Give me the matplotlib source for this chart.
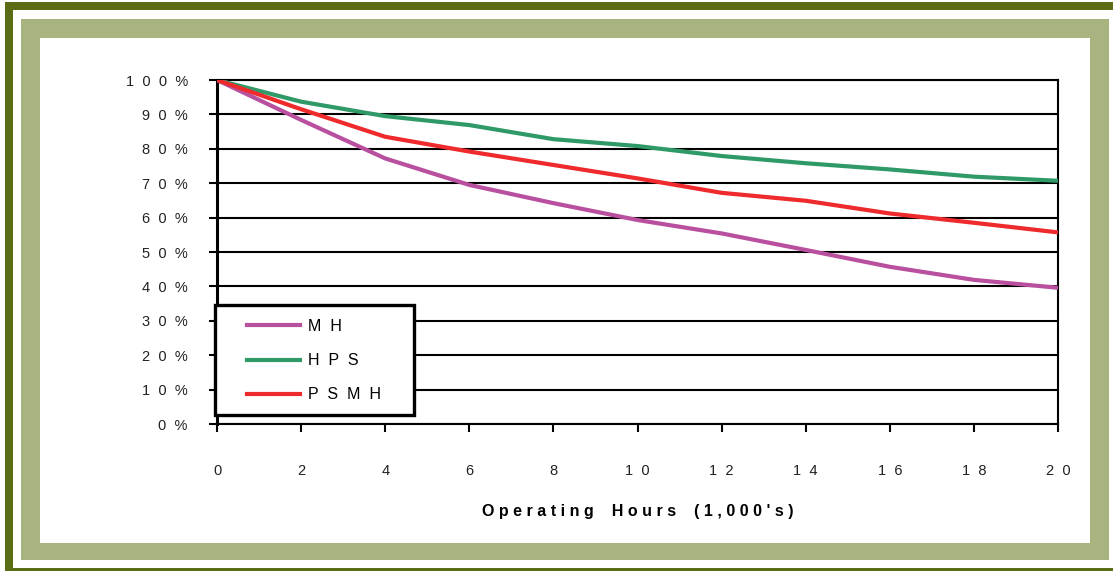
import matplotlib
matplotlib.use("Agg")
import matplotlib.pyplot as plt
from matplotlib.patches import Rectangle
from matplotlib.lines import Line2D

# ---- data ----
hours = [0, 2, 4, 6, 8, 10, 12, 14, 16, 18, 20]
mh = [100, 88.4, 77.2, 69.5, 64.2, 59.3, 55.4, 50.6, 45.7, 41.9, 39.6]
hps = [100, 93.7, 89.5, 86.9, 82.8, 80.8, 77.9, 75.8, 74.0, 71.9, 70.7]
psmh = [100, 91.5, 83.5, 79.2, 75.3, 71.4, 67.2, 64.9, 61.2, 58.5, 55.7]
series_names = ["M  H", "H  P  S", "P  S  M  H"]
series_colors = ["#B9509F", "#2F9A68", "#EE2A2C"]
y_ticks = [0, 10, 20, 30, 40, 50, 60, 70, 80, 90, 100]
y_labels = ["0  %", "1  0  %", "2  0  %", "3  0  %", "4  0  %", "5  0  %",
            "6  0  %", "7  0  %", "8  0  %", "9  0  %", "1  0  0  %"]
x_ticks = hours
x_labels = ["0", "2", "4", "6", "8", "1  0", "1  2", "1  4", "1  6", "1  8", "2  0"]
x_title = "O p e r a t i n g    H o u r s    ( 1 , 0 0 0 ' s )"

W, H = 1113, 571
plt.rcParams['font.family'] = ['Liberation Sans', 'DejaVu Sans']
fig = plt.figure(figsize=(W / 100, H / 100), dpi=100)
fig.patch.set_facecolor("white")


def rect_px(x0, y0, x1, y1, color, z):
    r = Rectangle((x0 / W, 1 - y1 / H), (x1 - x0) / W, (y1 - y0) / H,
                  transform=fig.transFigure, facecolor=color, edgecolor="none",
                  zorder=z)
    fig.add_artist(r)
    return r


# frame
rect_px(5, 2, 1125, 590, "#5B6D14", -10)
rect_px(13, 10, 1117, 568, "white", -9)
rect_px(21, 19, 1109, 560, "#A8B47F", -8)
rect_px(40, 38, 1090, 543, "white", -7)

ax = fig.add_axes([217 / W, 1 - 424 / H, (1058 - 217) / W, (424 - 80) / H])
ax.set_facecolor("none")
ax.set_xlim(0, 20)
ax.set_ylim(0, 100)

for v in y_ticks:
    ax.axhline(v, color="black", lw=1.5, zorder=1)

for y, c in zip([mh, hps, psmh], series_colors):
    ax.plot(hours, y, color=c, lw=3.0, solid_capstyle="butt", zorder=3)

ax.spines["left"].set_linewidth(2.2)
ax.spines["right"].set_linewidth(1.5)
ax.spines["top"].set_linewidth(1.5)
ax.spines["bottom"].set_linewidth(1.5)

ax.set_yticks(y_ticks)
ax.set_yticklabels(y_labels, fontsize=10.5, color="#222222")
ax.set_xticks(x_ticks)
ax.set_xticklabels(x_labels, fontsize=10.5, color="#222222")
ax.tick_params(axis="y", direction="out", length=6, width=1.5, pad=15)
ax.tick_params(axis="x", direction="out", length=6, width=1.5, pad=22.5)
ax.set_xlabel(x_title, fontsize=11.5, fontweight="bold", labelpad=19)

# legend
rect = Rectangle((215 / W, 1 - 415 / H), (414 - 215) / W, (415 - 305) / H,
                 transform=fig.transFigure, facecolor="white", edgecolor="black",
                 lw=2.4, zorder=5)
fig.add_artist(rect)
handles = [Line2D([], [], color=c, lw=3.0) for c in series_colors]
leg = fig.legend(handles, series_names, loc="upper left",
                 bbox_to_anchor=(247 / W, 1 - 319 / H), frameon=False,
                 fontsize=11.5, handlelength=3.3, handletextpad=0.5,
                 labelspacing=1.2, borderpad=0, borderaxespad=0)
leg.set_zorder(6)

fig.savefig("out.png", dpi=100)
